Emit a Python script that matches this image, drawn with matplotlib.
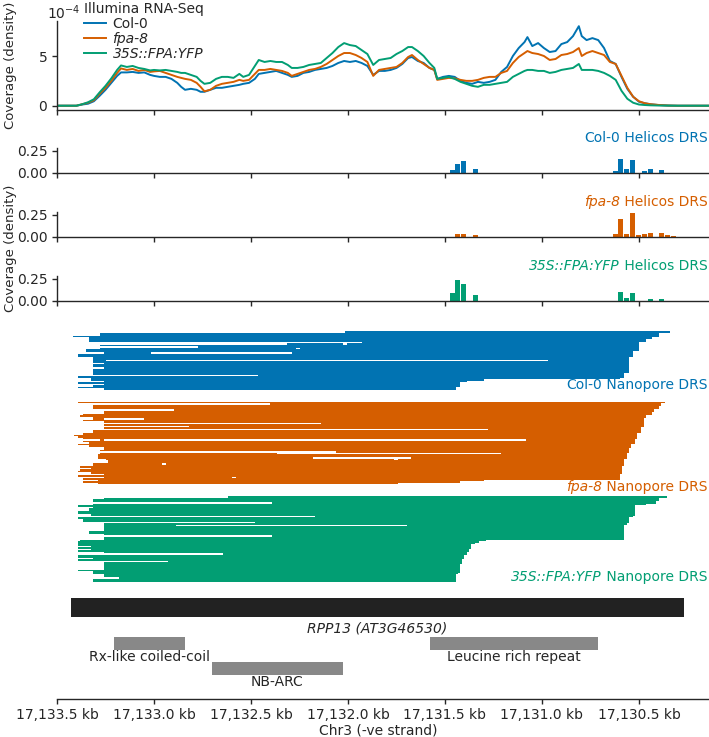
import matplotlib
matplotlib.use('Agg')
import matplotlib.pyplot as plt
import numpy as np
from matplotlib.lines import Line2D

plt.rcParams['font.family'] = ['DejaVu Sans']
plt.rcParams['font.size'] = 10
plt.rcParams['mathtext.fontset'] = 'dejavusans'
DARK = '#262626'
for k in ['text.color', 'axes.edgecolor', 'xtick.color', 'ytick.color', 'axes.labelcolor']:
    plt.rcParams[k] = DARK
plt.rcParams['axes.linewidth'] = 1.0
plt.rcParams['xtick.major.width'] = 1.0
plt.rcParams['ytick.major.width'] = 1.0
plt.rcParams['xtick.major.size'] = 3.5
plt.rcParams['ytick.major.size'] = 3.5
plt.rcParams['xtick.major.pad'] = 2.8

# ---------------- data ----------------
samples = ['Col-0', 'fpa-8', '35S::FPA:YFP']
sample_italic = [False, True, True]
colors = ['#0173B2', '#D55E00', '#029E73']

x_ticks = [17133500, 17133000, 17132500, 17132000, 17131500, 17131000, 17130500]
x_tick_labels = ['17,133.5 kb', '17,133.0 kb', '17,132.5 kb', '17,132.0 kb',
                 '17,131.5 kb', '17,131.0 kb', '17,130.5 kb']
x_lim = (17133500, 17130139)

# Illumina coverage (x 1e-4), positions = origin - offset
illumina_origin = 17133500
illumina_offset_bp = [0, 60, 100, 130, 160, 190, 220, 250, 280, 310, 330,
    360, 390, 420, 450, 480, 500, 530, 560, 590, 620,
    640, 660, 690, 720, 740, 760, 790, 820, 850, 880, 910, 940, 960, 990,
    1020, 1040, 1070, 1100, 1130, 1160, 1190, 1210, 1240, 1270, 1300, 1330, 1360, 1390, 1420,
    1450, 1480, 1510, 1540, 1570, 1600, 1630, 1660, 1690, 1720, 1750, 1780, 1810, 1830,
    1860, 1890, 1920, 1945, 1960, 1990, 2020, 2050, 2080, 2110, 2140, 2170, 2200, 2230, 2260,
    2290, 2320, 2350, 2380, 2410, 2425, 2450, 2480, 2510, 2540, 2570, 2600, 2630, 2660, 2690,
    2705, 2730, 2760, 2790, 2820, 2850, 2880, 2910, 2940, 2970, 3000, 3030, 3060, 3100, 3150,
    3200, 3360]
illumina_col0 = [0, 0, 0, 0.12, 0.2, 0.45, 1.0, 1.6, 2.3, 3.0, 3.35,
    3.35, 3.4, 3.3, 3.35, 3.1, 3.0, 2.9, 2.9, 2.7, 2.3,
    1.9, 1.6, 1.7, 1.6, 1.4, 1.4, 1.6, 1.8, 1.8, 1.9, 2.0, 2.1, 2.2, 2.3,
    2.7, 3.2, 3.3, 3.4, 3.5, 3.3, 3.1, 2.9, 3.0, 3.3, 3.4, 3.6, 3.7, 3.8, 4.0,
    4.3, 4.5, 4.4, 4.5, 4.3, 4.0, 3.1, 3.5, 3.5, 3.6, 3.8, 4.2, 4.8, 4.9,
    4.5, 4.3, 3.8, 3.6, 2.7, 2.9, 3.0, 2.9, 2.5, 2.3, 2.2, 2.4, 2.3, 2.4, 2.6,
    3.4, 3.9, 5.0, 5.8, 6.4, 6.9, 6.0, 6.3, 5.8, 5.4, 5.5, 6.2, 6.4, 7.0, 8.0,
    7.0, 6.6, 6.8, 6.6, 5.8, 4.5, 4.2, 2.9, 1.7, 0.9, 0.4, 0.25, 0.15, 0.07, 0.02,
    0, 0]
illumina_fpa8 = [0, 0, 0, 0.15, 0.3, 0.55, 1.2, 1.8, 2.5, 3.3, 3.75,
    3.6, 3.7, 3.5, 3.6, 3.4, 3.45, 3.5, 3.3, 3.1, 2.9,
    2.8, 2.7, 2.6, 2.3, 1.9, 1.45, 1.6, 2.0, 2.2, 2.3, 2.4, 2.6, 2.5, 2.6,
    3.2, 3.6, 3.6, 3.7, 3.6, 3.5, 3.3, 3.0, 3.2, 3.4, 3.6, 3.7, 3.9, 4.2, 4.6,
    5.0, 5.3, 5.3, 5.1, 4.8, 4.4, 3.0, 3.6, 3.7, 3.8, 3.9, 4.3, 4.9, 5.1,
    4.6, 4.2, 3.8, 3.6, 2.6, 2.7, 2.8, 2.75, 2.6, 2.5, 2.5, 2.6, 2.8, 2.9, 2.9,
    3.3, 3.5, 4.3, 4.9, 5.3, 5.5, 5.3, 5.2, 5.0, 4.6, 4.7, 5.1, 5.2, 5.4, 5.8,
    5.0, 5.3, 5.5, 5.3, 5.1, 4.4, 4.2, 3.0, 1.8, 0.9, 0.45, 0.25, 0.15, 0.08, 0.02,
    0, 0]
illumina_35s = [0, 0, 0, 0.15, 0.35, 0.65, 1.35, 2.0, 2.75, 3.6, 4.05,
    3.9, 4.0, 3.8, 3.7, 3.55, 3.6, 3.55, 3.6, 3.5, 3.4,
    3.3, 3.3, 3.1, 2.9, 2.5, 2.2, 2.3, 2.7, 2.9, 2.9, 2.8, 3.2, 2.9, 3.1,
    4.0, 4.6, 4.4, 4.5, 4.4, 4.4, 4.1, 3.8, 3.8, 3.9, 4.1, 4.2, 4.3, 4.8, 5.3,
    5.9, 6.3, 6.1, 6.0, 5.6, 5.2, 4.1, 4.6, 4.7, 4.8, 5.2, 5.5, 5.9, 5.9,
    5.5, 5.0, 4.3, 3.8, 2.7, 2.8, 2.9, 2.7, 2.4, 2.2, 2.0, 1.9, 2.1, 2.1, 2.2,
    2.3, 2.4, 2.9, 3.2, 3.5, 3.6, 3.6, 3.5, 3.5, 3.3, 3.4, 3.6, 3.7, 3.8, 4.2,
    3.6, 3.6, 3.6, 3.5, 3.3, 3.0, 2.6, 1.5, 0.7, 0.3, 0.12, 0.07, 0.04, 0.02, 0.01,
    0, 0]

# Helicos DRS 3' end density (bin centres, bp)
helicos_col0_pos = [17131463, 17131433, 17131403, 17131343, 17131313, 17130623, 17130593,
                    17130563, 17130533, 17130473, 17130443, 17130383]
helicos_col0_val = [0.038, 0.106, 0.136, 0.042, 0.003, 0.026, 0.163, 0.049, 0.148, 0.019, 0.042, 0.034]
helicos_fpa8_pos = [17131433, 17131403, 17131343, 17130623, 17130593, 17130563, 17130533,
                    17130503, 17130473, 17130443, 17130383, 17130353, 17130323]
helicos_fpa8_val = [0.038, 0.036, 0.022, 0.034, 0.208, 0.038, 0.273, 0.023, 0.030, 0.045, 0.045, 0.025, 0.017]
helicos_35s_pos = [17131463, 17131433, 17131403, 17131343, 17131313, 17130623, 17130593,
                   17130563, 17130533, 17130503, 17130443, 17130383]
helicos_35s_val = [0.087, 0.242, 0.189, 0.064, 0.004, 0.005, 0.102, 0.034, 0.091, 0.004, 0.023, 0.023]

# Nanopore DRS reads: (row, start, end) in bp
nanopore_col0 = [
    (0, 17132016, 17130338), (1, 17133280, 17130399), (2, 17133280, 17130399),
    (3, 17133416, 17130399), (4, 17133335, 17130432), (5, 17133335, 17130465),
    (6, 17133335, 17130465), (7, 17131928, 17130498), (8, 17132312, 17132027),
    (8, 17132005, 17130498), (9, 17133280, 17130498), (10, 17132774, 17130498),
    (11, 17133280, 17132269), (11, 17132247, 17130498), (12, 17133351, 17130498),
    (13, 17133351, 17130531), (14, 17133258, 17133016), (14, 17132290, 17130531),
    (15, 17133390, 17130531), (16, 17133390, 17130531), (17, 17133313, 17130553),
    (18, 17133313, 17130553), (19, 17133313, 17133247), (19, 17130971, 17130553),
    (20, 17133313, 17130553), (21, 17133258, 17130553), (22, 17133313, 17130553),
    (23, 17133313, 17130553), (24, 17133258, 17130553), (25, 17133313, 17130553),
    (26, 17133313, 17130553), (27, 17133313, 17130553), (28, 17133313, 17130575),
    (29, 17132466, 17130575), (30, 17133390, 17130575), (31, 17133324, 17130597),
    (32, 17133324, 17131301), (33, 17133258, 17131389), (34, 17133390, 17131422),
    (35, 17133258, 17131422), (36, 17133313, 17131422), (37, 17133390, 17131444),
    (38, 17133258, 17131444)]
nanopore_fpa8 = [
    (0, 17133390, 17130366), (1, 17132400, 17130388), (2, 17133313, 17130388),
    (3, 17133313, 17130399), (4, 17133313, 17130399), (5, 17132895, 17130421),
    (6, 17133258, 17130421), (7, 17133258, 17130432), (8, 17133368, 17130432),
    (9, 17133379, 17130465), (10, 17133313, 17130465), (11, 17133313, 17133258),
    (11, 17133049, 17130476), (12, 17133368, 17130476), (13, 17133258, 17130476),
    (14, 17132137, 17130476), (15, 17133258, 17130476), (16, 17132818, 17130476),
    (17, 17133258, 17130487), (18, 17131279, 17130487), (19, 17133313, 17130487),
    (20, 17133313, 17130487), (21, 17133368, 17130509), (22, 17133412, 17130509),
    (23, 17133390, 17130509), (24, 17133368, 17130509), (25, 17133280, 17133258),
    (25, 17131081, 17130520), (26, 17133368, 17130520), (27, 17133335, 17130520),
    (28, 17133390, 17130542), (29, 17133335, 17130542), (30, 17133258, 17130542),
    (31, 17133258, 17130553), (32, 17133280, 17130553), (33, 17132060, 17130553),
    (34, 17133280, 17132368), (34, 17131213, 17130564), (35, 17133291, 17130564),
    (36, 17133291, 17130564), (37, 17133291, 17132181), (37, 17131675, 17130564),
    (38, 17133247, 17131763), (38, 17131741, 17130575), (39, 17133236, 17130575),
    (40, 17133236, 17130575), (41, 17133313, 17132961), (41, 17132939, 17130575),
    (42, 17133313, 17130575), (43, 17133379, 17130586), (44, 17133324, 17130586),
    (45, 17133379, 17130586), (46, 17133390, 17130586), (47, 17133324, 17130586),
    (48, 17133258, 17130597), (49, 17133390, 17130597), (50, 17133258, 17132598),
    (50, 17132576, 17130597), (51, 17133368, 17130597), (52, 17133291, 17131301),
    (53, 17133368, 17131422), (54, 17133291, 17131741)]
nanopore_35s = [
    (0, 17132620, 17130355), (1, 17133258, 17130399), (2, 17133313, 17130399),
    (3, 17133313, 17130410), (4, 17132390, 17130410), (5, 17133313, 17130465),
    (6, 17133390, 17130520), (7, 17133313, 17130520), (8, 17133335, 17130520),
    (9, 17133335, 17130520), (10, 17133390, 17130520), (11, 17133390, 17130520),
    (12, 17133324, 17130520), (13, 17132170, 17130531), (14, 17133390, 17130553),
    (15, 17133368, 17130553), (16, 17133368, 17130553), (17, 17132477, 17130553),
    (18, 17133258, 17130564), (19, 17133258, 17132884), (19, 17131697, 17130575),
    (20, 17133258, 17130575), (21, 17133258, 17130575), (22, 17133258, 17130575),
    (23, 17133335, 17130575), (24, 17133335, 17130575), (25, 17133258, 17130575),
    (26, 17132390, 17130575), (27, 17133258, 17130575), (28, 17133258, 17130575),
    (29, 17133379, 17131290), (30, 17133390, 17131323), (31, 17133390, 17131345),
    (32, 17133390, 17131367), (33, 17133324, 17131367), (34, 17133390, 17131367),
    (35, 17133324, 17131378), (36, 17133390, 17131378), (37, 17133258, 17131389),
    (38, 17132642, 17131389), (39, 17133390, 17131400), (40, 17133390, 17131400),
    (41, 17133313, 17131400), (42, 17133390, 17131411), (43, 17132928, 17131411),
    (44, 17133258, 17131411), (45, 17133258, 17131422), (46, 17133258, 17131422),
    (47, 17133258, 17131422), (48, 17133258, 17131422), (49, 17133390, 17131422),
    (50, 17133313, 17131422), (51, 17133313, 17131433), (52, 17133258, 17131444),
    (53, 17133258, 17131444), (54, 17133181, 17131444), (55, 17133313, 17131444),
    (56, 17133313, 17131444)]

# gene annotation
gene_label = 'RPP13 (AT3G46530)'
gene_start, gene_end = 17133430, 17130270
domain_names = ['Rx-like coiled-coil', 'NB-ARC', 'Leucine rich repeat']
domain_starts = [17133204, 17132701, 17131577]
domain_ends = [17132838, 17132028, 17130711]
domain_track = [0, 1, 0]
x_label = 'Chr3 (-ve strand)'
y_label = 'Coverage (density)'

# ---------------- layout helpers ----------------
W, H = 709, 737
fig = plt.figure(figsize=(W / 100, H / 100), dpi=100)


def ax_px(left, top, right, bottom):
    return fig.add_axes([left / W, 1 - bottom / H, (right - left) / W, (bottom - top) / H])


def style_axis(ax, labels=False):
    ax.set_xlim(*x_lim)
    ax.set_xticks(x_ticks)
    if labels:
        ax.set_xticklabels(x_tick_labels)
    else:
        ax.set_xticklabels([])
    for s in ['top', 'right']:
        ax.spines[s].set_visible(False)


renderer = fig.canvas.get_renderer()


def right_text(x_px, y_px, parts, color):
    cur = x_px
    for txt, style in reversed(parts):
        t = fig.text(cur / W, 1 - y_px / H, txt, ha='right', va='center',
                     fontstyle=style, color=color)
        cur -= t.get_window_extent(renderer).width


def sample_parts(i, suffix):
    return [(samples[i], 'italic' if sample_italic[i] else 'normal'), (suffix, 'normal')]


# ---------------- Illumina panel ----------------
ax0 = ax_px(57, 21, 709, 110)
pos = [illumina_origin - d for d in illumina_offset_bp]
for vals, c in zip([illumina_col0, illumina_fpa8, illumina_35s], colors):
    ax0.plot(pos, np.array(vals) * 1e-4, color=c, lw=1.4)
style_axis(ax0)
ax0.set_ylim(-0.43e-4, 8.52e-4)
ax0.set_yticks([0, 5e-4])
ax0.set_yticklabels(['0', '5'])
fig.text(47 / W, 1 - 13 / H, r'$10^{-4}$', ha='left', va='center')
handles = [Line2D([], [], color=c, lw=1.4) for c in colors]
leg = fig.legend(handles, samples, title='Illumina RNA-Seq', loc='upper left',
                 bbox_to_anchor=(84 / W, 1 - 2 / H), frameon=False, borderpad=0,
                 borderaxespad=0, handlelength=1.6, handletextpad=0.45,
                 labelspacing=0.08, alignment='left', fontsize=10, title_fontsize=10)
for t, it in zip(leg.get_texts(), sample_italic):
    if it:
        t.set_fontstyle('italic')

# ---------------- Helicos panels ----------------
hel_pos = [helicos_col0_pos, helicos_fpa8_pos, helicos_35s_pos]
hel_val = [helicos_col0_val, helicos_fpa8_val, helicos_35s_val]
hel_bottoms = [173, 237, 301]
for i in range(3):
    b = hel_bottoms[i]
    ax = ax_px(57, b - 25, 709, b)
    ax.bar(hel_pos[i], hel_val[i], width=26, color=colors[i], linewidth=0)
    style_axis(ax)
    ax.set_ylim(0, 0.284)
    ax.set_yticks([0, 0.25])
    ax.set_yticklabels(['0.00', '0.25'])
    right_text(707.5, b - 35, sample_parts(i, ' Helicos DRS'), colors[i])

fig.text(11 / W, 1 - 65 / H, y_label, rotation=90, ha='center', va='center', fontsize=9.5)
fig.text(11 / W, 1 - 248 / H, y_label, rotation=90, ha='center', va='center', fontsize=9.5)

# ---------------- Nanopore panel ----------------
axn = ax_px(57, 331, 709, 581.5)
group_offsets = [0, 47, 110]
for i, reads in enumerate([nanopore_col0, nanopore_fpa8, nanopore_35s]):
    rows = [r + group_offsets[i] for r, s, e in reads]
    lefts = [min(s, e) for r, s, e in reads]
    widths = [abs(s - e) for r, s, e in reads]
    axn.barh(rows, widths, left=lefts, height=1.0, align='edge',
             color=colors[i], linewidth=0)
axn.set_xlim(*x_lim)
axn.set_ylim(167, 0)
axn.axis('off')
nano_label_px = [385, 487, 577]
for i in range(3):
    right_text(707.5, nano_label_px[i], sample_parts(i, ' Nanopore DRS'), colors[i])

# ---------------- Gene panel ----------------
axg = ax_px(57, 590, 709, 699)
axg.barh(8, gene_start - gene_end, left=gene_end, height=19, align='edge',
         color='#222222', linewidth=0)
axg.text((gene_start + gene_end) / 2, 39, gene_label, style='italic',
         ha='center', va='center')
track_y = [47, 72]
for name, s, e, tr in zip(domain_names, domain_starts, domain_ends, domain_track):
    axg.barh(track_y[tr], s - e, left=e, height=12.5, align='edge',
             color='#888888', linewidth=0)
    axg.text((s + e) / 2, track_y[tr] + 20, name, ha='center', va='center')
style_axis(axg, labels=True)
axg.set_ylim(109, 0)
axg.set_yticks([])
axg.spines['left'].set_visible(False)
axg.set_xlabel(x_label, va='center')
axg.xaxis.set_label_coords((378 - 57) / (709 - 57), -(730 - 699) / 109)

fig.savefig('out.png', dpi=100)
